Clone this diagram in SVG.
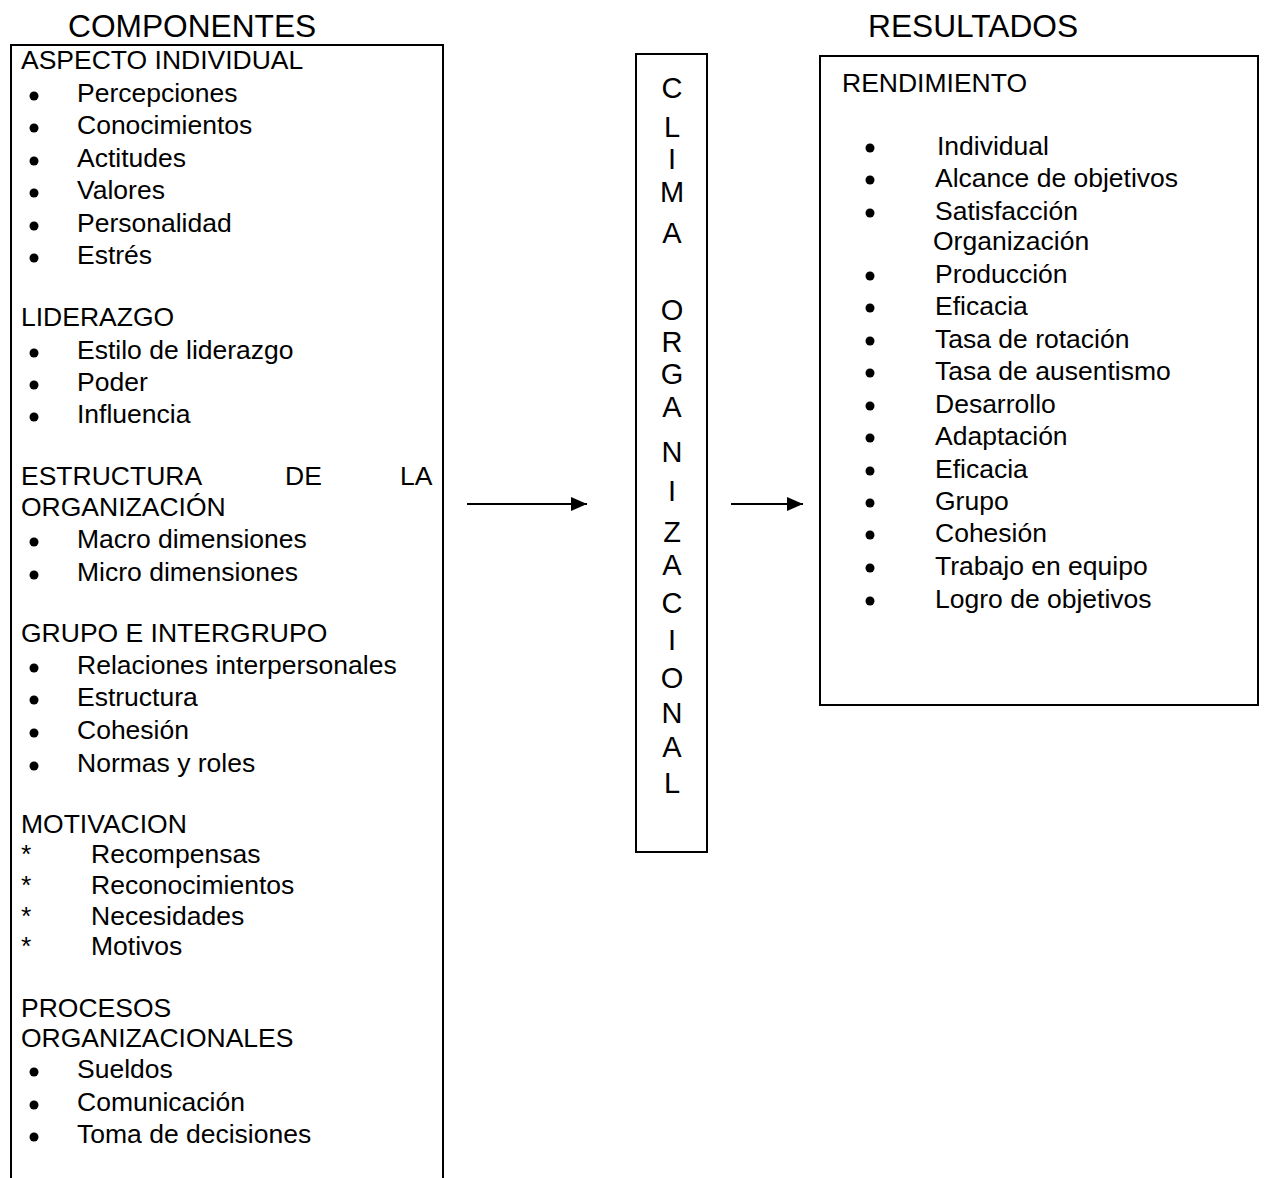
<svg xmlns="http://www.w3.org/2000/svg" width="1267" height="1178" viewBox="0 0 1267 1178">
<defs>
<style>
text{font-family:"Liberation Sans",Arial,sans-serif;fill:#000}
.t{font-size:26.5px}
.h{font-size:31.7px}
.v{font-size:29px;text-anchor:middle}
.box{fill:none;stroke:#000;stroke-width:2}
.b{fill:#000}
.c{stroke:#000;stroke-width:2;fill:none}
</style>
<marker id="ah" markerWidth="16" markerHeight="14" refX="16" refY="7" orient="auto" markerUnits="userSpaceOnUse">
<path d="M0,0 L16,7 L0,14 Z" fill="#000"/>
</marker>
</defs>
<rect width="1267" height="1178" fill="#fff"/>
<text class="h" x="68" y="37">COMPONENTES</text>
<text class="h" x="868" y="37">RESULTADOS</text>

<g id="componentes">
<path class="box" d="M11,1182 V45 H443 V1182"/>
<text class="t" x="21" y="69">ASPECTO INDIVIDUAL</text>
<g class="b"><circle cx="34" cy="96" r="4.5"/><circle cx="34" cy="128" r="4.5"/><circle cx="34" cy="161" r="4.5"/><circle cx="34" cy="193" r="4.5"/><circle cx="34" cy="226" r="4.5"/><circle cx="34" cy="258" r="4.5"/></g>
<text class="t" x="77" y="102">Percepciones</text>
<text class="t" x="77" y="134">Conocimientos</text>
<text class="t" x="77" y="167">Actitudes</text>
<text class="t" x="77" y="199">Valores</text>
<text class="t" x="77" y="232">Personalidad</text>
<text class="t" x="77" y="264">Estrés</text>

<text class="t" x="21" y="326">LIDERAZGO</text>
<g class="b"><circle cx="34" cy="353" r="4.5"/><circle cx="34" cy="385" r="4.5"/><circle cx="34" cy="417" r="4.5"/></g>
<text class="t" x="77" y="359">Estilo de liderazgo</text>
<text class="t" x="77" y="391">Poder</text>
<text class="t" x="77" y="423">Influencia</text>

<text class="t" x="21" y="485">ESTRUCTURA</text>
<text class="t" x="285" y="485">DE</text>
<text class="t" x="400" y="485">LA</text>
<text class="t" x="21" y="516">ORGANIZACIÓN</text>
<g class="b"><circle cx="34" cy="542" r="4.5"/><circle cx="34" cy="575" r="4.5"/></g>
<text class="t" x="77" y="548">Macro dimensiones</text>
<text class="t" x="77" y="581">Micro dimensiones</text>

<text class="t" x="21" y="642">GRUPO E INTERGRUPO</text>
<g class="b"><circle cx="34" cy="668" r="4.5"/><circle cx="34" cy="700" r="4.5"/><circle cx="34" cy="733" r="4.5"/><circle cx="34" cy="766" r="4.5"/></g>
<text class="t" x="77" y="674">Relaciones interpersonales</text>
<text class="t" x="77" y="706">Estructura</text>
<text class="t" x="77" y="739">Cohesión</text>
<text class="t" x="77" y="772">Normas y roles</text>

<text class="t" x="21" y="833">MOTIVACION</text>
<text class="t" x="21" y="863">*</text>
<text class="t" x="21" y="894">*</text>
<text class="t" x="21" y="925">*</text>
<text class="t" x="21" y="955">*</text>
<text class="t" x="91" y="863">Recompensas</text>
<text class="t" x="91" y="894">Reconocimientos</text>
<text class="t" x="91" y="925">Necesidades</text>
<text class="t" x="91" y="955">Motivos</text>

<text class="t" x="21" y="1017">PROCESOS</text>
<text class="t" x="21" y="1047">ORGANIZACIONALES</text>
<g class="b"><circle cx="34" cy="1072" r="4.5"/><circle cx="34" cy="1105" r="4.5"/><circle cx="34" cy="1137" r="4.5"/></g>
<text class="t" x="77" y="1078">Sueldos</text>
<text class="t" x="77" y="1111">Comunicación</text>
<text class="t" x="77" y="1143">Toma de decisiones</text>
</g>

<g id="clima">
<rect class="box" x="636" y="54" width="71" height="798"/>
<text class="v" x="672" y="98">C</text>
<text class="v" x="672" y="137">L</text>
<text class="v" x="672" y="169">I</text>
<text class="v" x="672" y="202">M</text>
<text class="v" x="672" y="243">A</text>
<text class="v" x="672" y="320">O</text>
<text class="v" x="672" y="352">R</text>
<text class="v" x="672" y="384">G</text>
<text class="v" x="672" y="417">A</text>
<text class="v" x="672" y="462">N</text>
<text class="v" x="672" y="501">I</text>
<text class="v" x="672" y="542">Z</text>
<text class="v" x="672" y="575">A</text>
<text class="v" x="672" y="613">C</text>
<text class="v" x="672" y="650">I</text>
<text class="v" x="672" y="688">O</text>
<text class="v" x="672" y="723">N</text>
<text class="v" x="672" y="757">A</text>
<text class="v" x="672" y="793">L</text>
</g>

<g id="resultados">
<rect class="box" x="820" y="56" width="438" height="649"/>
<text class="t" x="842" y="92">RENDIMIENTO</text>
<g class="b">
<circle cx="870" cy="148" r="4.5"/><circle cx="870" cy="180" r="4.5"/><circle cx="870" cy="213" r="4.5"/>
<circle cx="870" cy="276" r="4.5"/><circle cx="870" cy="308" r="4.5"/><circle cx="870" cy="341" r="4.5"/>
<circle cx="870" cy="373" r="4.5"/><circle cx="870" cy="406" r="4.5"/><circle cx="870" cy="438" r="4.5"/>
<circle cx="870" cy="471" r="4.5"/><circle cx="870" cy="503" r="4.5"/><circle cx="870" cy="535" r="4.5"/>
<circle cx="870" cy="568" r="4.5"/><circle cx="870" cy="601" r="4.5"/>
</g>
<text class="t" x="937" y="155">Individual</text>
<text class="t" x="935" y="187">Alcance de objetivos</text>
<text class="t" x="935" y="220">Satisfacción</text>
<text class="t" x="933" y="250">Organización</text>
<text class="t" x="935" y="283">Producción</text>
<text class="t" x="935" y="315">Eficacia</text>
<text class="t" x="935" y="348">Tasa de rotación</text>
<text class="t" x="935" y="380">Tasa de ausentismo</text>
<text class="t" x="935" y="413">Desarrollo</text>
<text class="t" x="935" y="445">Adaptación</text>
<text class="t" x="935" y="478">Eficacia</text>
<text class="t" x="935" y="510">Grupo</text>
<text class="t" x="935" y="542">Cohesión</text>
<text class="t" x="935" y="575">Trabajo en equipo</text>
<text class="t" x="935" y="608">Logro de objetivos</text>
</g>

<g id="connectors">
<line class="c" x1="467" y1="504" x2="587" y2="504" marker-end="url(#ah)"/>
<line class="c" x1="731" y1="504" x2="803" y2="504" marker-end="url(#ah)"/>
</g>
</svg>
